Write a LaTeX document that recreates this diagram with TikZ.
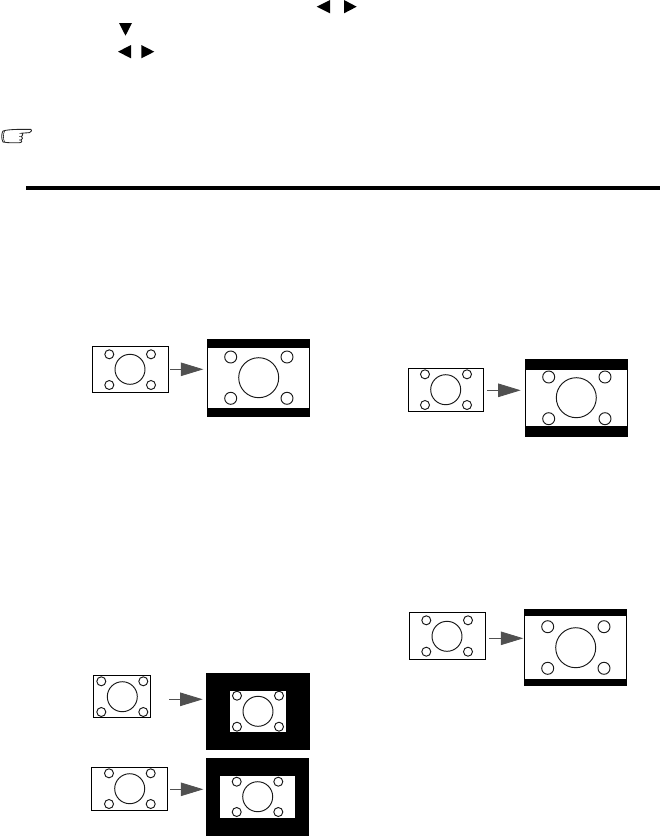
\documentclass[tikz,border=0pt]{standalone}
\usetikzlibrary{arrows.meta}
\definecolor{flowgray}{HTML}{505050}
\tikzset{
  x=1pt,y=-1pt,
  outline/.style={draw=black,line width=1pt,fill=white,inner sep=0pt,outer sep=0pt},
  blackbox/.style={draw=black,line width=.6pt,fill=black,inner sep=0pt,outer sep=0pt},
  whitebox/.style={fill=white,inner sep=0pt,outer sep=0pt},
  dot/.style={draw=black!90,line width=.95pt,fill=white},
  flow/.style={draw=flowgray,line width=.8pt,-{Triangle[length=22.5pt,width=13.5pt,fill=flowgray]}},
  tri/.style={fill=black,draw=none},
}
% rect corners x0 y0 x1 y1 -> named node
\newcommand{\boxnode}[6]{\node[#2,minimum width=#5pt-#3pt,minimum height=#6pt-#4pt,anchor=north west] (#1) at (#3,#4) {};}
% scene: centre cx cy, R, four dots xl xr yt yb, r
\newcommand{\scenery}[8]{%
  \draw[dot] (#1,#2) circle[radius=#3];
  \draw[dot] (#4,#6) circle[radius=#8];
  \draw[dot] (#5,#6) circle[radius=#8];
  \draw[dot] (#4,#7) circle[radius=#8];
  \draw[dot] (#5,#7) circle[radius=#8];}
\begin{document}
\begin{tikzpicture}
\useasboundingbox (0,0) rectangle (660,836);
\fill[white] (0,0) rectangle (660,836);
% top markers
\fill[tri] (316.7,6.7) -- (330,0) -- (330,13.3) -- cycle;
\fill[tri] (356.7,6.7) -- (344,0) -- (344,13.3) -- cycle;
\fill[tri] (119,23) -- (132,23) -- (125.5,35.7) -- cycle;
\fill[tri] (118,51.7) -- (131,45) -- (131,58.3) -- cycle;
\fill[tri] (154.3,51.7) -- (141.3,45) -- (141.3,58.3) -- cycle;
% hand
\draw[black!85,line width=.85pt,line join=round,fill=white]
  (31,129.4) -- (17,129.4) .. controls (11,129.6) and (6,130) .. (3,131)
  .. controls (1.3,133.5) and (1.3,139) .. (3,142)
  .. controls (8,143) and (14,142.8) .. (19,142.8)
  .. controls (22,142.8) and (22.5,140.5) .. (21,140)
  .. controls (23,139.5) and (23,137) .. (21.5,136.6)
  .. controls (23,136) and (23,133.6) .. (22,133.2)
  -- (29.5,132.6) .. controls (32,132) and (32,129.6) .. (31,129.4) -- cycle;
\draw[black!85,line width=.6pt] (4.6,131) .. controls (3,134) and (3,139) .. (4.6,142);
\draw[black!85,line width=.6pt] (22,133.2) -- (19.5,133.4) (21.5,136.6) -- (19,136.6) (21,140) -- (19,140);
% rule
\fill[black] (26,186) rectangle (660,190);

% group 1
\boxnode{sa}{outline}{92.5}{346.3}{168.5}{392.3}
\scenery{130}{369.3}{15}{109.3}{151}{354.3}{385}{4.5}
\boxnode{da}{blackbox}{207.3}{339.3}{309.7}{416.7}
\boxnode{wa}{whitebox}{207.8}{347.7}{309.2}{408}
\scenery{258.7}{377.7}{20}{230.7}{287}{357}{398.3}{6}
\coordinate (a1) at (170,369.3); \coordinate (a2) at (203.3,369.3);
\draw[flow] (a1) -- (a2);

% group 2
\boxnode{sb}{outline}{408.3}{368.3}{483.3}{411.3}
\scenery{445.7}{389.7}{15}{425}{467}{374.3}{405}{4.5}
\boxnode{db}{blackbox}{525.3}{359.3}{627.7}{436.7}
\boxnode{wb}{whitebox}{526}{370}{627}{426}
\scenery{576.3}{397.7}{20}{548.7}{605}{377}{418.7}{6}
\coordinate (b1) at (487,390.3); \coordinate (b2) at (520.7,390.3);
\draw[flow] (b1) -- (b2);

% group 3
\boxnode{sc}{outline}{409.3}{612.3}{485.7}{659.3}
\scenery{447}{636.3}{15}{426.3}{468}{620.3}{651.7}{4.5}
\boxnode{dc}{blackbox}{524.3}{609.3}{626.7}{685.7}
\boxnode{wc}{whitebox}{525}{616}{626}{679}
\scenery{575.7}{647.7}{20}{547.7}{604}{626.7}{668.3}{6}
\coordinate (c1) at (489.3,638.3); \coordinate (c2) at (523.3,638.3);
\draw[flow] (c1) -- (c2);

% group 4
\boxnode{sd}{outline}{93.3}{675}{150.7}{717.7}
\scenery{122.3}{696.7}{15}{101.3}{143.3}{681.3}{712}{4.5}
\boxnode{dd}{blackbox}{206.3}{673.3}{309.7}{749.7}
\boxnode{wd}{whitebox}{230}{691}{286}{732}
\scenery{258}{711.3}{15}{237}{279}{695.7}{726.7}{4.5}
\coordinate (d1) at (169,699.3); \coordinate (d2) at (202.7,699.3);
\draw[flow] (d1) -- (d2);

% group 5
\boxnode{se}{outline}{91.3}{767.3}{167.3}{810.3}
\scenery{129.7}{788.7}{15}{109}{150.7}{773.3}{804}{4.5}
\boxnode{de}{blackbox}{206.3}{758.3}{308.7}{835.7}
\boxnode{we}{whitebox}{220}{776}{295}{818}
\scenery{257.7}{796.7}{15}{236.7}{278.3}{781.7}{812}{4.5}
\coordinate (e1) at (170,789.3); \coordinate (e2) at (203.3,789.3);
\draw[flow] (e1) -- (e2);
\end{tikzpicture}
\end{document}
